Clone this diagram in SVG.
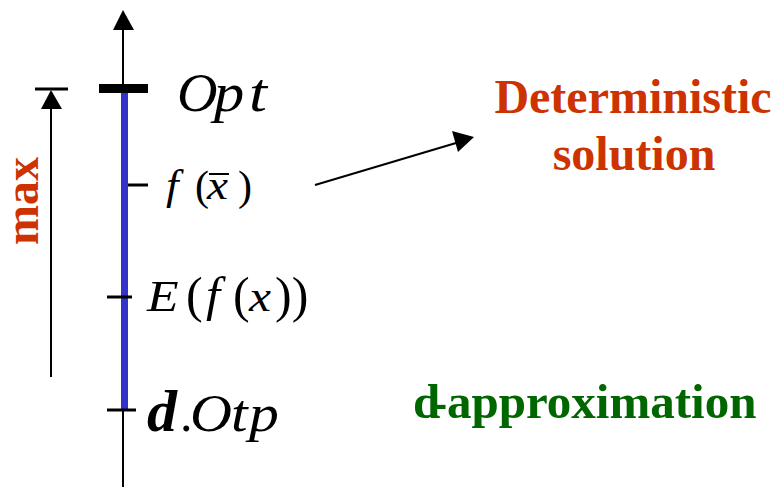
<svg xmlns="http://www.w3.org/2000/svg" width="775" height="488" viewBox="0 0 775 488">
<style>
.ln{stroke:#000;stroke-width:2;fill:none}
.tk{stroke:#000;stroke-width:3}
.m{font-family:"Liberation Serif","Times New Roman",serif;font-style:italic;fill:#000}
.p{font-family:"Liberation Serif","Times New Roman",serif;fill:#000}
.lab{font-family:"Liberation Serif","Times New Roman",serif;font-weight:bold}
.red{fill:#CC3300}
.grn{fill:#006600}
</style>
<g id="connectors">
<line class="ln" x1="123" y1="487" x2="123" y2="30"/>
<path d="M113,30 L123,10 L134,30 z" fill="#000"/>
<line class="ln" x1="51" y1="377" x2="51" y2="108"/>
<path d="M41,109 L51,90 L62,109 z" fill="#000"/>
<line class="tk" x1="35" y1="89" x2="68" y2="89"/>
<line class="ln" x1="315" y1="185" x2="456" y2="143"/>
<path d="M452,131 L474,137 L458,152 z" fill="#000"/>
</g>
<g id="axis">
<line x1="124.5" y1="90" x2="124.5" y2="410" stroke="#3333CC" stroke-width="7"/>
<rect x="99" y="84" width="49" height="9" fill="#000"/>
</g>
<g id="opt">
<text class="m" font-size="54" transform="translate(177,111) scale(1.04,1)">O</text>
<text class="m" font-size="54" transform="translate(214,111) scale(1.12,1)">p</text>
<text class="m" font-size="54" transform="translate(249,111) scale(1.2,1)">t</text>
</g>
<g id="fxbar">
<line class="tk" x1="128" y1="185" x2="148" y2="185"/>
<text class="m" font-size="43" transform="translate(166,199) scale(1.05,1)">f</text>
<text class="p" font-size="42" x="195" y="200">(</text>
<text class="m" font-size="43" transform="translate(207,199) scale(1.1,1)">x</text>
<text class="p" font-size="42" x="238" y="200">)</text>
<line x1="209" y1="174" x2="229" y2="174" stroke="#000" stroke-width="2"/>
</g>
<g id="efx">
<line class="tk" x1="107" y1="297" x2="132" y2="297"/>
<text class="m" font-size="45" transform="translate(147,311) scale(1.15,1)">E</text>
<text class="p" font-size="50" x="186" y="312">(</text>
<text class="m" font-size="48" transform="translate(206,311) scale(1.05,1)">f</text>
<text class="p" font-size="50" x="233" y="312">(</text>
<text class="m" font-size="45" transform="translate(249,311) scale(1.1,1)">x</text>
<text class="p" font-size="50" x="275" y="312">))</text>
</g>
<g id="dotp">
<line class="tk" x1="107" y1="410" x2="136" y2="410"/>
<text class="m" font-size="60" font-weight="bold" x="147" y="431">d</text>
<text class="p" font-size="50" x="180" y="431">.</text>
<text class="m" font-size="52" transform="translate(190,431) scale(1.12,1)">O</text>
<text class="m" font-size="52" transform="translate(231,431) scale(1.15,1)">t</text>
<text class="m" font-size="52" transform="translate(249,431) scale(1.15,1)">p</text>
</g>
<g id="max">
<text class="lab red" font-size="48" transform="translate(38,245) rotate(-90)">max</text>
</g>
<g id="deterministic">
<text class="lab red" font-size="48" text-anchor="middle"><tspan x="633" y="113">Deterministic</tspan><tspan x="634" y="170">solution</tspan></text>
</g>
<g id="dapprox">
<text class="lab grn" y="418" font-size="49"><tspan x="413">d</tspan><tspan x="431">-</tspan><tspan x="447">approximation</tspan></text>
</g>
</svg>
